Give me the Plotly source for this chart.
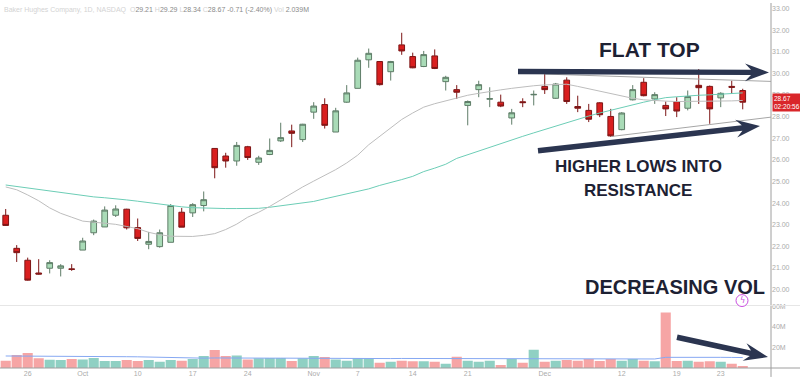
import plotly.graph_objects as go
import pandas as pd

# ---------------- data ----------------
HOLIDAYS = ['2022-11-24', '2022-12-26']
dates = [d.strftime('%Y-%m-%d') for d in pd.bdate_range('2022-09-22', '2022-12-28')
         if d.strftime('%Y-%m-%d') not in HOLIDAYS]

opens = [23.44, 21.91, 21.36, 20.77, 20.99, 20.99, 20.96, 21.83, 22.63, 22.90,
         23.44, 23.72, 22.87, 22.10, 21.99, 22.19, 23.58, 23.55, 23.89, 26.53,
         26.18, 25.95, 26.61, 25.89, 26.25, 26.88, 27.34, 26.94, 28.21, 28.56,
         27.29, 28.67, 29.31, 30.63, 30.55, 30.08, 31.32, 30.78, 30.32, 30.81,
         29.62, 29.25, 28.52, 29.25, 28.81, 28.67, 27.94, 28.69, 29.01, 29.40,
         28.85, 29.69, 28.47, 28.29, 28.64, 28.01, 27.40, 28.78, 29.59, 28.82,
         28.52, 28.70, 28.39, 29.45, 29.40, 28.87, 29.40, 29.21]
highs = [23.73, 22.06, 21.48, 21.41, 21.36, 21.18, 21.18, 22.40, 23.24, 23.85,
         23.90, 23.74, 23.29, 22.67, 22.78, 23.96, 23.78, 24.00, 24.54, 26.55,
         26.33, 26.83, 26.65, 26.19, 26.99, 27.72, 27.63, 27.67, 28.67, 28.85,
         28.41, 29.46, 30.73, 31.15, 30.57, 30.58, 31.88, 30.96, 31.04, 31.11,
         29.89, 29.46, 28.75, 29.66, 29.36, 29.02, 28.36, 28.85, 29.21, 29.97,
         29.56, 29.82, 28.97, 28.59, 28.67, 28.36, 28.21, 29.46, 29.78, 29.13,
         28.70, 28.90, 29.21, 30.20, 29.44, 29.13, 29.66, 29.29]
lows = [22.95, 21.28, 20.42, 20.70, 20.75, 20.61, 20.87, 21.83, 22.52, 22.90,
        23.36, 22.78, 22.25, 21.87, 21.94, 22.19, 22.89, 23.36, 23.62, 25.15,
        25.64, 25.73, 26.00, 25.77, 26.22, 26.83, 26.59, 26.83, 27.90, 27.45,
        27.29, 28.64, 29.31, 30.26, 29.44, 29.67, 30.86, 30.24, 30.29, 30.20,
        29.21, 28.82, 27.60, 28.90, 28.44, 28.44, 27.63, 28.44, 28.52, 29.05,
        28.82, 28.59, 28.21, 27.75, 27.98, 27.06, 27.37, 28.75, 28.94, 28.59,
        28.03, 27.98, 28.29, 28.59, 27.67, 28.44, 29.05, 28.34]
closes = [22.97, 21.71, 20.44, 20.72, 21.25, 21.10, 20.94, 22.25, 23.17, 23.68,
          23.73, 22.86, 22.37, 22.23, 22.63, 23.89, 22.89, 23.93, 24.16, 25.64,
          25.95, 26.67, 26.11, 26.09, 26.44, 27.03, 27.23, 27.65, 28.49, 27.60,
          28.27, 29.10, 30.61, 30.93, 29.48, 30.55, 31.04, 30.26, 30.87, 30.23,
          29.82, 29.13, 28.70, 29.48, 28.83, 28.49, 28.18, 28.65, 29.03, 29.25,
          29.51, 28.70, 28.39, 27.88, 28.09, 27.11, 28.17, 29.25, 28.97, 29.02,
          28.36, 28.26, 28.93, 29.34, 28.36, 29.08, 29.36, 28.67]
volume_m = [7.1, 12.6, 14.6, 9.4, 8.1, 7.8, 8.7, 8.4, 9.7, 6.8,
            6.8, 7.8, 6.8, 7.8, 6.2, 7.8, 7.1, 8.7, 11.6, 17.5,
            11.6, 12.3, 8.4, 9.4, 9.7, 9.7, 6.8, 9.4, 11.6, 10.7,
            8.4, 7.1, 9.4, 9.4, 5.2, 6.2, 7.1, 6.5, 6.5, 6.1,
            4.2, 11.0, 7.1, 6.1, 7.1, 2.9, 8.7, 5.2, 17.8, 6.1,
            7.1, 7.8, 7.1, 8.7, 6.8, 8.7, 7.1, 8.7, 7.1, 6.5,
            54.0, 6.8, 7.1, 6.1, 6.5, 6.1, 4.2, 2.04]
vol_ma_m = [11.7, 11.7, 11.7, 11.7, 11.7, 11.6, 11.5, 11.4, 11.3, 11.2,
            11.1, 11.0, 10.9, 10.7, 10.5, 10.0, 9.5, 9.4, 9.6, 9.8,
            9.9, 9.9, 9.8, 9.7, 9.6, 9.6, 9.5, 9.5, 9.5, 9.6,
            9.6, 9.5, 9.5, 9.4, 9.3, 9.2, 9.3, 9.3, 9.2, 9.1,
            9.0, 8.9, 8.9, 8.8, 8.8, 8.8, 8.8, 8.8, 9.0, 9.0,
            8.9, 8.9, 8.9, 8.8, 8.8, 8.8, 8.8, 8.8, 8.8, 8.8,
            10.4, 10.5, 10.5, 10.5, 10.5, 10.4, 10.3, 10.2]
ma_gray = [24.75, 24.62, 24.38, 24.11, 23.78, 23.53, 23.35, 23.17, 23.12, 23.07,
           23.02, 22.92, 22.82, 22.65, 22.54, 22.47, 22.45, 22.46, 22.51, 22.59,
           22.78, 23.03, 23.35, 23.58, 23.85, 24.15, 24.47, 24.75, 25.02, 25.28,
           25.55, 25.86, 26.22, 26.70, 27.09, 27.45, 27.87, 28.17, 28.44, 28.60,
           28.74, 28.88, 28.99, 29.08, 29.17, 29.24, 29.31, 29.38, 29.43, 29.47,
           29.50, 29.50, 29.40, 29.29, 29.17, 29.06, 28.94, 28.85, 28.78, 28.74,
           28.72, 28.70, 28.70, 28.70, 28.71, 28.72, 28.73, 28.75]
ma_teal = [24.84, 24.77, 24.70, 24.63, 24.56, 24.49, 24.41, 24.34, 24.29, 24.25,
           24.21, 24.15, 24.09, 24.02, 23.94, 23.88, 23.83, 23.79, 23.77, 23.76,
           23.75, 23.75, 23.75, 23.76, 23.81, 23.88, 23.94, 24.01, 24.08, 24.20,
           24.31, 24.43, 24.54, 24.66, 24.82, 24.94, 25.09, 25.24, 25.46, 25.62,
           25.80, 26.07, 26.24, 26.42, 26.61, 26.77, 26.93, 27.09, 27.25, 27.41,
           27.57, 27.73, 27.89, 28.03, 28.17, 28.30, 28.44, 28.56, 28.67, 28.78,
           28.88, 28.92, 28.97, 28.99, 29.01, 29.04, 29.07, 29.10]

# drawn trendlines (bar position, price)
flat_top_x = [49, 69.6]
flat_top_y = [29.97, 29.63]
higher_lows_x = [55, 69.6]
higher_lows_y = [27.08, 27.98]

tick_dates = ['2022-09-26', '2022-10-03', '2022-10-10', '2022-10-17', '2022-10-24',
              '2022-11-01', '2022-11-07', '2022-11-14', '2022-11-21', '2022-12-01',
              '2022-12-12', '2022-12-19', '2022-12-23']
tick_text = ['26', 'Oct', '10', '17', '24', 'Nov', '7', '14', '21', 'Dec', '12', '19', '23']

price_ticks = list(range(20, 34))
price_tick_text = ['%.2f' % v for v in price_ticks]
vol_ticks = [20, 40, 60]
vol_tick_text = ['20M', '40M', '60M']
last_price = closes[-1]

# ---------------- figure ----------------
xs = list(range(len(dates)))
tickvals = [dates.index(d) for d in tick_dates]

PW, PH = 771.0, 368.0
def P(px, py):
    return px / PW, (PH - py) / PH

UP_FILL, UP_LINE = '#a9dbb7', '#5f7d68'
DN_FILL, DN_LINE = '#d91f1f', '#7d1616'
VOL_UP, VOL_DN = '#8fd0c3', '#f6a5a5'

fig = go.Figure()
fig.add_trace(go.Scatter(x=xs, y=ma_teal, mode='lines', line=dict(color='#6ccdb6', width=1),
                         yaxis='y', hoverinfo='skip'))
fig.add_trace(go.Scatter(x=xs, y=ma_gray, mode='lines', line=dict(color='#bdbdbd', width=1),
                         yaxis='y', hoverinfo='skip'))
fig.add_trace(go.Scatter(x=flat_top_x, y=flat_top_y, mode='lines',
                         line=dict(color='#a6a6a6', width=1), yaxis='y'))
fig.add_trace(go.Scatter(x=higher_lows_x, y=higher_lows_y, mode='lines',
                         line=dict(color='#a6a6a6', width=1), yaxis='y'))
fig.add_trace(go.Candlestick(
    x=xs, open=opens, high=highs, low=lows, close=closes, yaxis='y',
    increasing=dict(fillcolor=UP_FILL, line=dict(color=UP_LINE, width=1)),
    decreasing=dict(fillcolor=DN_FILL, line=dict(color=DN_LINE, width=1)),
    whiskerwidth=0))
vcolors = [VOL_UP if c >= o else VOL_DN for o, c in zip(opens, closes)]
fig.add_trace(go.Bar(x=xs, y=volume_m, marker=dict(color=vcolors, line=dict(width=0)),
                     yaxis='y2'))
fig.add_trace(go.Scatter(x=xs, y=vol_ma_m, mode='lines', line=dict(color='#86a8f2', width=1),
                         yaxis='y2'))

split = P(0, 305)[1]
axis_font = dict(family='Liberation Sans', size=7, color='#ababab')

fig.update_layout(
    width=800, height=377,
    margin=dict(l=0, r=29, t=0, b=9),
    paper_bgcolor='white', plot_bgcolor='white',
    showlegend=False, bargap=0.08, boxgap=0.26,
    xaxis=dict(range=[-0.518, 69.57], anchor='y2', tickmode='array', tickvals=tickvals,
               ticktext=tick_text, showgrid=False, zeroline=False, showline=False, ticks='',
               tickfont=axis_font, rangeslider=dict(visible=False)),
    yaxis=dict(domain=[split, 1], range=[19.266, 33.257], side='right', anchor='x',
               tickmode='array', tickvals=price_ticks, ticktext=price_tick_text,
               showgrid=False, zeroline=False, ticks='', tickfont=axis_font),
    yaxis2=dict(domain=[0, split], range=[0, 60.9], side='right', anchor='x',
                tickmode='array', tickvals=vol_ticks, ticktext=vol_tick_text, showgrid=False,
                zeroline=False, ticks='', tickfont=axis_font),
)

shapes = []
# frame lines
shapes.append(dict(type='line', xref='paper', yref='paper', x0=P(771, 0)[0], x1=P(771, 0)[0],
                   y0=P(0, 0)[1], y1=P(0, 377)[1], line=dict(color='#9e9e9e', width=1)))
shapes.append(dict(type='line', xref='paper', yref='paper', x0=0, x1=P(800, 0)[0],
                   y0=P(0, 368)[1], y1=P(0, 368)[1], line=dict(color='#9e9e9e', width=1)))
shapes.append(dict(type='line', xref='paper', yref='paper', x0=0, x1=P(800, 0)[0],
                   y0=split, y1=split, line=dict(color='#e6e6e6', width=1)))

def arrow(x0, y0, x1, y1, t=5.5, hl=24, hw=9, notch=6):
    import math
    dx, dy = x1 - x0, y1 - y0
    L = math.hypot(dx, dy)
    ux, uy = dx / L, dy / L
    vx, vy = -uy, ux
    bx, by = x1 - ux * (hl - notch), y1 - uy * (hl - notch)
    hx, hy = x1 - ux * hl, y1 - uy * hl
    pts = [(x0 + vx * t / 2, y0 + vy * t / 2), (bx + vx * t / 2, by + vy * t / 2),
           (hx + vx * hw, hy + vy * hw), (x1, y1), (hx - vx * hw, hy - vy * hw),
           (bx - vx * t / 2, by - vy * t / 2), (x0 - vx * t / 2, y0 - vy * t / 2)]
    path = 'M ' + ' L '.join('%.5f,%.5f' % P(px, py) for px, py in pts) + ' Z'
    return dict(type='path', xref='paper', yref='paper', path=path,
                fillcolor='#2b3550', line=dict(width=0))

shapes.append(arrow(518, 69, 769, 70))
shapes.append(arrow(538, 149, 760, 124))
shapes.append(arrow(677, 337, 768, 357))
# event icon circle
cx, cy = P(742, 300)
shapes.append(dict(type='circle', xref='paper', yref='paper',
                   x0=P(736, 0)[0], x1=P(748, 0)[0], y0=P(0, 306)[1], y1=P(0, 294)[1],
                   line=dict(color='#c94ce0', width=1), fillcolor='white'))
fig.update_layout(shapes=shapes)

TXT = '#1d2133'
ann = []
def label(text, px, py, size):
    x, y = P(px, py)
    ann.append(dict(text=text, x=x, y=y, xref='paper', yref='paper', showarrow=False,
                    xanchor='center', yanchor='middle',
                    font=dict(family='Liberation Sans', size=size, color=TXT)))

label('<b>FLAT TOP</b>', 649, 47, 21)
label('<b>HIGHER LOWS INTO</b>', 638, 165, 17)
label('<b>RESISTANCE</b>', 638, 189, 17)
label('<b>DECREASING VOL</b>', 675, 286, 20)

ann.append(dict(text='ϟ', x=cx, y=cy, xref='paper', yref='paper', showarrow=False,
                xanchor='center', yanchor='middle',
                font=dict(family='DejaVu Sans', size=8, color='#c94ce0')))

hx, hy = P(2, 7)
lc, vc = '#d3d3d3', '#8a8a8a'
header = (f"<span style='color:{lc}'>Baker Hughes Company, 1D, NASDAQ  O</span>"
          f"<span style='color:{vc}'>{opens[-1]:.2f}</span>"
          f"<span style='color:{lc}'> H</span><span style='color:{vc}'>{highs[-1]:.2f}</span>"
          f"<span style='color:{lc}'> L</span><span style='color:{vc}'>{lows[-1]:.2f}</span>"
          f"<span style='color:{lc}'> C</span><span style='color:{vc}'>{closes[-1]:.2f} -0.71 (-2.40%)</span>"
          f"<span style='color:{lc}'> Vol </span><span style='color:{vc}'>2.039M</span>")
ann.append(dict(text=header, x=hx, y=hy, xref='paper', yref='paper', showarrow=False,
                xanchor='left', yanchor='middle',
                font=dict(family='Liberation Sans', size=7, color=vc)))

ann.append(dict(text=f'{last_price:.2f}<br>02:20:56', x=1, y=last_price, xref='paper', yref='y',
                showarrow=False, xanchor='left', yanchor='middle', align='left',
                bgcolor='#d9262a', borderpad=1, xshift=1,
                font=dict(family='Liberation Sans', size=6.5, color='white')))
fig.update_layout(annotations=ann)

fig.write_html('out.html', config={'displayModeBar': False},
               post_script="document.body.style.margin='0';document.body.style.overflow='hidden';")
